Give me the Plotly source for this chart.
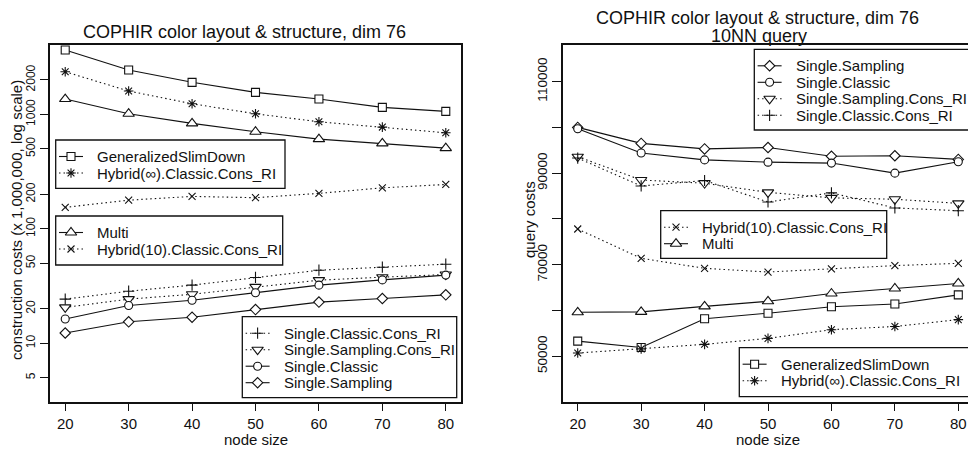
import plotly.graph_objects as go

W, H = 968, 450

node_size = [20, 30, 40, 50, 60, 70, 80]

# construction costs (x 1,000,000, log scale)
c_gsd = [3650, 2440, 1905, 1556, 1361, 1151, 1062]
c_hinf = [2355, 1599, 1238, 1012, 861, 774, 690]
c_multi = [1361, 1012, 834, 705, 608, 558, 507]
c_h10 = [154, 178, 192, 187, 204, 228, 244]
c_scc = [24.3, 28.5, 32.2, 37.6, 43.5, 46.2, 49.1]
c_ssc = [20.6, 24.3, 26.8, 31.1, 35.6, 37.8, 39.9]
c_sc = [16.3, 21.4, 23.8, 27.6, 32.2, 35.8, 39.4]
c_ss = [12.3, 15.4, 16.9, 19.7, 22.9, 24.6, 26.5]

# query costs (10NN query)
q_ss = [100000, 96500, 95300, 95600, 93700, 93800, 93000]
q_sc = [99700, 94400, 92900, 92400, 92200, 90000, 92500]
q_ssc = [93600, 88500, 87800, 85800, 84600, 84300, 83400]
q_scc = [93300, 87200, 88400, 83700, 85700, 82400, 81800]
q_h10 = [77800, 71400, 69200, 68400, 69100, 69800, 70300]
q_multi = [59600, 59700, 60900, 62000, 63700, 64800, 65900]
q_gsd = [53300, 51900, 58200, 59400, 60800, 61400, 63400]
q_hinf = [50700, 51600, 52600, 53900, 55800, 56500, 58000]

left_ticks = [5, 10, 20, 50, 100, 200, 500, 1000, 2000]
right_ticks = [50000, 60000, 70000, 80000, 90000, 100000, 110000]
right_ticklabels = ["50000", "", "70000", "", "90000", "", "110000"]

N_GSD = "GeneralizedSlimDown"
N_HINF = "Hybrid(∞).Classic.Cons_RI"
N_MULTI = "Multi"
N_H10 = "Hybrid(10).Classic.Cons_RI"
N_SCC = "Single.Classic.Cons_RI"
N_SSC = "Single.Sampling.Cons_RI"
N_SC = "Single.Classic"
N_SS = "Single.Sampling"

DOT = "1.5px,3px"
# name -> (symbol, size, dash, filled-shape)
styles = {
    N_GSD: ("square", 8, "solid", True),
    N_HINF: ("asterisk", 8, DOT, False),
    N_MULTI: ("triangle-up", 10, "solid", True),
    N_H10: ("x-thin", 7, DOT, False),
    N_SCC: ("cross-thin", 8, DOT, False),
    N_SSC: ("triangle-down", 10, DOT, True),
    N_SC: ("circle", 8, "solid", True),
    N_SS: ("diamond", 8, "solid", True),
}

FONT = "Liberation Sans, Arial, Helvetica, sans-serif"
INK = "#111111"
LW = 1.1


def marker_of(name):
    sym, size, dash, filled = styles[name]
    return dict(symbol=sym, size=size, color="white" if filled else INK,
                line=dict(color=INK, width=1.1))


def series(name, y, xa, ya):
    sym, size, dash, filled = styles[name]
    return go.Scatter(x=node_size, y=y, name=name, mode="lines+markers",
                      line=dict(color=INK, width=LW, dash=dash),
                      marker=marker_of(name), xaxis=xa, yaxis=ya,
                      showlegend=False)


fig = go.Figure()

left_series = [(N_GSD, c_gsd), (N_HINF, c_hinf), (N_MULTI, c_multi), (N_H10, c_h10),
               (N_SCC, c_scc), (N_SSC, c_ssc), (N_SC, c_sc), (N_SS, c_ss)]
right_series = [(N_SS, q_ss), (N_SC, q_sc), (N_SSC, q_ssc), (N_SCC, q_scc),
                (N_H10, q_h10), (N_MULTI, q_multi), (N_GSD, q_gsd), (N_HINF, q_hinf)]

for n, y in left_series:
    fig.add_trace(series(n, y, "x", "y"))
for n, y in right_series:
    fig.add_trace(series(n, y, "x2", "y2"))

shapes = []
annotations = []


def legend(box, entries, text_dx=36):
    x0, y0, x1, y1 = box
    shapes.append(dict(type="rect", xref="x3", yref="y3", x0=x0, y0=y0, x1=x1, y1=y1,
                       line=dict(color=INK, width=1.3), fillcolor="rgba(0,0,0,0)"))
    step = 16.5
    for i, name in enumerate(entries):
        sym, size, dash, filled = styles[name]
        yy = y0 + step * (i + 1)
        xl = x0 + 3.3
        fig.add_trace(go.Scatter(x=[xl, xl + 24], y=[yy, yy], mode="lines",
                                 line=dict(color=INK, width=LW, dash=dash),
                                 xaxis="x3", yaxis="y3", showlegend=False, hoverinfo="skip"))
        fig.add_trace(go.Scatter(x=[xl + 12], y=[yy], mode="markers", marker=marker_of(name),
                                 xaxis="x3", yaxis="y3", showlegend=False, hoverinfo="skip"))
        annotations.append(dict(xref="x3", yref="y3", x=xl + text_dx, y=yy, text=name,
                                xanchor="left", yanchor="middle", showarrow=False,
                                font=dict(size=15, color=INK, family=FONT)))


legend((55.7, 140, 285, 188.3), [N_GSD, N_HINF])
legend((55.7, 216, 282.7, 265), [N_MULTI, N_H10])
legend((242.3, 316.7, 456.7, 397.7), [N_SCC, N_SSC, N_SC, N_SS])
legend((754.3, 49.3, 990, 130), [N_SS, N_SC, N_SSC, N_SCC])
legend((660.7, 210.7, 886.7, 258.3), [N_H10, N_MULTI])
legend((739.3, 347.7, 990, 396.7), [N_GSD, N_HINF])


def txt(x, y, s, size=15, angle=0):
    annotations.append(dict(xref="x3", yref="y3", x=x, y=y, text=s, textangle=angle,
                            xanchor="center", yanchor="middle", showarrow=False,
                            font=dict(size=size, color=INK, family=FONT)))


txt(244.5, 31.5, "COPHIR color layout & structure, dim 76", 18)
txt(757, 17.5, "COPHIR color layout & structure, dim 76", 18)
txt(759, 36, "10NN query", 18)
txt(16, 220, "construction costs (x 1,000,000, log scale)", 15, -90)
txt(529, 220, "query costs", 15, -90)
txt(255.5, 439, "node size", 15)
txt(768, 439, "node size", 15)


def px_dom_x(a, b):
    return [a / W, min(b / W, 1.0)]


def px_dom_y(top, bottom):
    return [1 - bottom / H, 1 - top / H]


axis_common = dict(showgrid=False, zeroline=False, showline=True, linecolor=INK, linewidth=1.5,
                   ticks="outside", tickcolor=INK, tickwidth=1, automargin=False)

xfont = dict(size=15, color=INK, family=FONT)

fig.update_layout(
    width=W, height=H, autosize=False,
    margin=dict(l=0, r=0, t=0, b=0),
    paper_bgcolor="white", plot_bgcolor="rgba(0,0,0,0)",
    font=dict(family=FONT, size=15, color=INK),
    showlegend=False,
    xaxis=dict(domain=px_dom_x(50, 461), range=[17.6, 82.4], tickvals=node_size,
               ticklen=7, mirror=True, anchor="y", tickfont=xfont, **axis_common),
    yaxis=dict(domain=px_dom_y(45, 402), type="log", range=[0.487, 3.606],
               tickvals=left_ticks, ticktext=[str(v) for v in left_ticks],
               tickangle=-90, ticklen=8, mirror=True, anchor="x",
               tickfont=dict(size=12, color=INK, family=FONT), **axis_common),
    xaxis2=dict(domain=px_dom_x(562.7, 968), range=[17.63, 81.53], tickvals=node_size,
                ticklen=7, mirror=True, anchor="y2", tickfont=xfont, **axis_common),
    yaxis2=dict(domain=px_dom_y(45, 402), range=[40000, 118000],
                tickvals=right_ticks, ticktext=right_ticklabels,
                tickangle=-90, ticklen=9, mirror=False, anchor="x2",
                tickfont=dict(size=13.5, color=INK, family=FONT), **axis_common),
    xaxis3=dict(domain=[0, 1], range=[0, W], visible=False, anchor="y3", fixedrange=True),
    yaxis3=dict(domain=[0, 1], range=[H, 0], visible=False, anchor="x3", fixedrange=True),
    shapes=shapes,
    annotations=annotations,
)

fig.write_html("out.html", config={"displayModeBar": False},
               post_script="document.body.style.margin='0px';document.body.style.overflow='hidden';")
